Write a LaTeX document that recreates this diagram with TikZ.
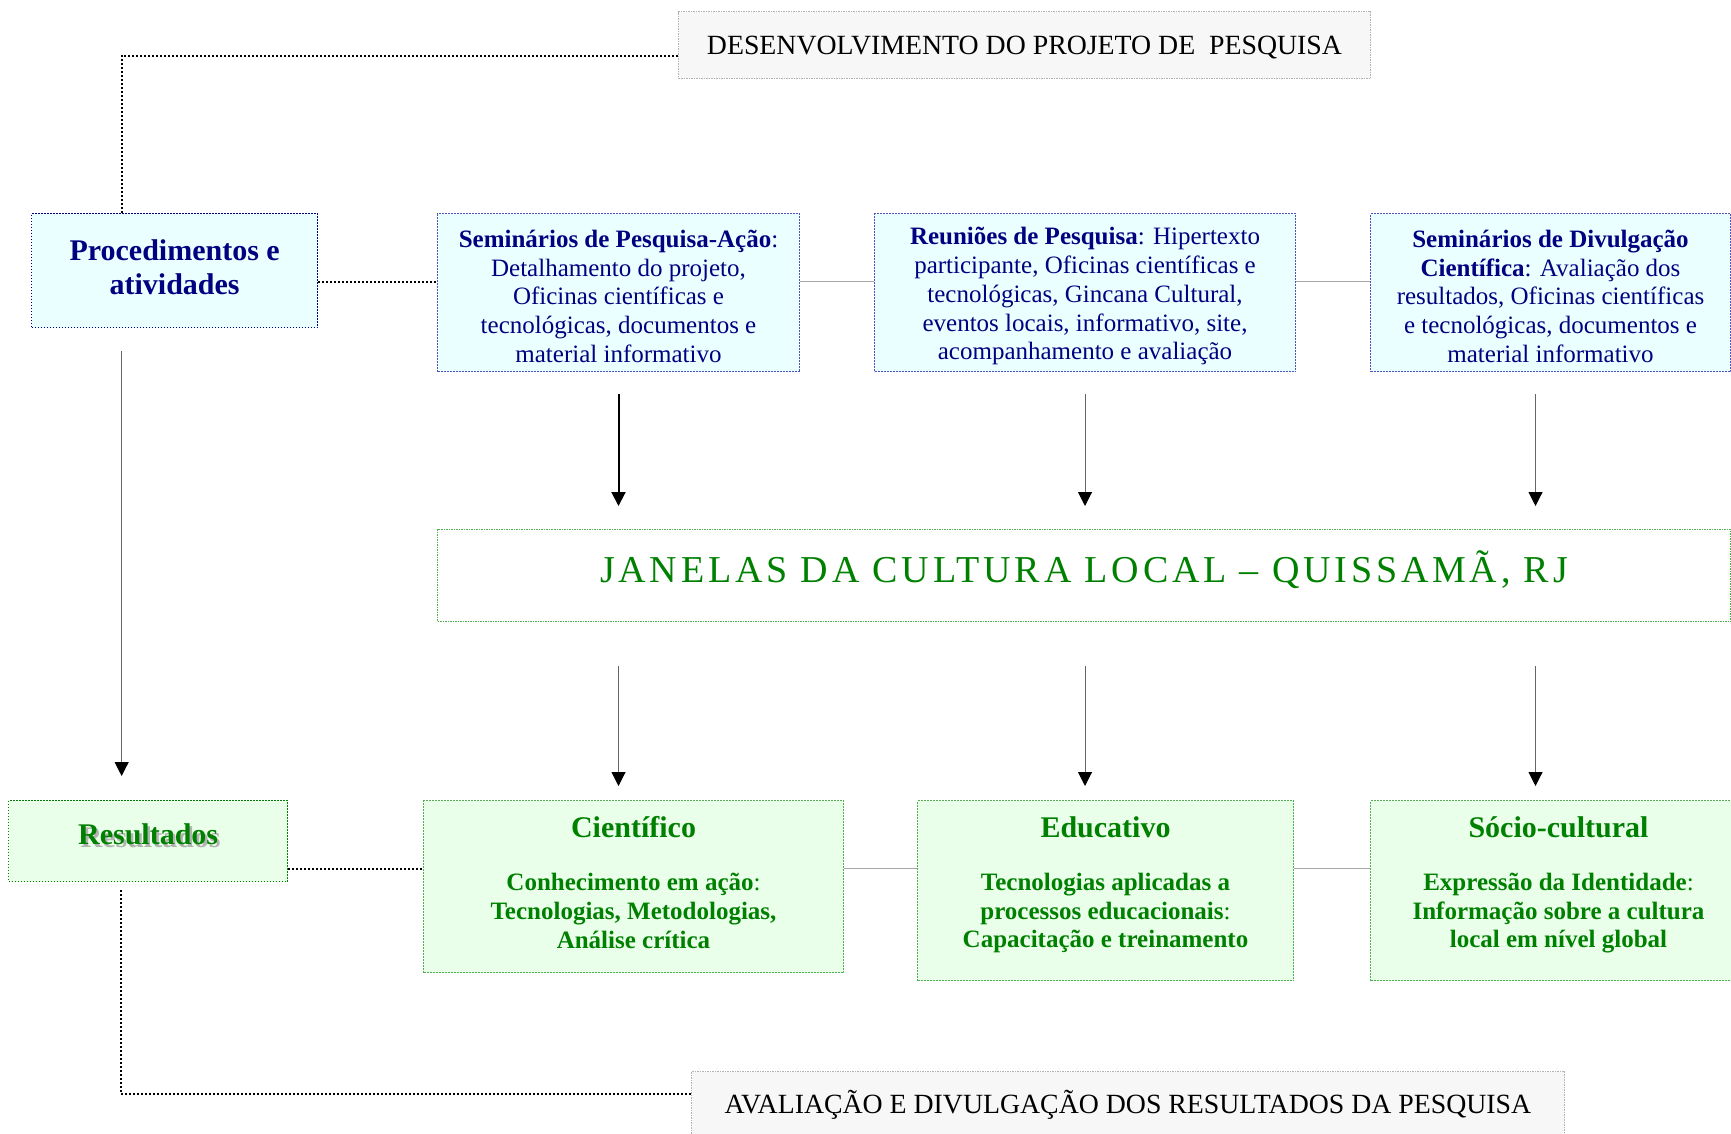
\documentclass[tikz,border=0pt]{standalone}
\usepackage{fontspec}
\setmainfont{Liberation Serif}
\usepackage{xcolor}
\usepackage{tikz}
\usetikzlibrary{positioning}
\usetikzlibrary{arrows.meta}

\definecolor{navytext}{RGB}{0,0,128}
\definecolor{greentext}{RGB}{0,128,0}
\definecolor{cyanfill}{RGB}{234,255,255}
\definecolor{mintfill}{RGB}{234,255,234}
\definecolor{greyfill}{RGB}{247,247,247}
\definecolor{blueline}{RGB}{80,80,190}
\definecolor{greenline}{RGB}{80,175,80}

\NewDocumentCommand{\shadowword}{m}{%
\makebox[0pt][l]{\kern2.5pt\raisebox{-2.5pt}{\textcolor{gray!60}{#1}}}#1%
}
\NewDocumentCommand{\headstrut}{}{\rule{0pt}{25pt}}
\NewDocumentCommand{\footstrut}{m}{\rule[-#1]{0pt}{#1}}

\begin{document}
\begin{tikzpicture}[x=1pt, y=-1pt,
headernode/.style={rectangle, draw=gray!60, line width=1pt, dash pattern=on 1.5pt off 1pt, fill=greyfill, anchor=north west, inner sep=0pt, align=center, font=\fontsize{27.8}{32}\selectfont},
procnode/.style={rectangle, draw=navytext, line width=1.3pt, dash pattern=on 1.5pt off 1.5pt, fill=cyanfill, anchor=north west, inner sep=0pt, align=center, text=navytext, font=\fontsize{30}{34.5}\selectfont\bfseries},
activitynode/.style={rectangle, draw=blueline, line width=1pt, dash pattern=on 2pt off 1pt, fill=cyanfill, anchor=north west, inner sep=0pt, align=center, text=navytext, font=\fontsize{25}{28.75}\selectfont},
centralnode/.style={rectangle, draw=greenline, line width=1pt, dash pattern=on 1.5pt off 1pt, fill=white, anchor=north west, inner sep=0pt, align=center, text=greentext, font=\fontsize{38}{44}\selectfont},
resultnode/.style={rectangle, draw=greentext, line width=1.3pt, dash pattern=on 1.5pt off 1.5pt, fill=mintfill, anchor=north west, inner sep=0pt, align=center, text=greentext, font=\fontsize{30}{34.5}\selectfont\bfseries},
outcomenode/.style={rectangle, draw=greenline, line width=1pt, dash pattern=on 2pt off 1pt, fill=mintfill, anchor=north west, inner sep=0pt, align=center, text=greentext, font=\fontsize{25}{28.75}\selectfont\bfseries},
dotlink/.style={line width=2pt, dash pattern=on 2pt off 2pt},
greylink/.style={draw=gray!70, line width=1pt},
boldarrow/.style={line width=2pt, -{Triangle[length=14pt, width=14pt]}},
thinarrow/.style={draw=gray!80!black, line width=1pt, -{Triangle[length=14pt, width=14pt, color=black]}},
]
\clip (0,0) rectangle (1731,1133);

%Nodes
\node[headernode, minimum width=692pt, minimum height=67pt, text height=22.5pt]	(devbox)	at (678,11)	{DESENVOLVIMENTO DO PROJETO DE\ \ PESQUISA};
\node[procnode, minimum width=286pt, minimum height=114pt]	(procbox)	at (31,213)	{Procedimentos e\\atividades\footstrut{7pt}};
\node[activitynode, minimum width=362pt, minimum height=158pt]	(semact)	at (437,213)	{\headstrut\textbf{Seminários de Pesquisa-Ação}:\\Detalhamento do projeto,\\Oficinas científicas e\\tecnológicas, documentos e\\material informativo};
\node[activitynode, minimum width=421pt, minimum height=158pt]	(meetings)	at (874,213)	{\headstrut\textbf{Reuniões de Pesquisa}: Hipertexto\\participante, Oficinas científicas e\\tecnológicas, Gincana Cultural,\\eventos locais, informativo, site,\\acompanhamento e avaliação};
\node[activitynode, minimum width=360pt, minimum height=158pt]	(semdiv)	at (1370,213)	{\headstrut\textbf{Seminários de Divulgação}\\\textbf{Científica}: Avaliação dos\\resultados, Oficinas científicas\\e tecnológicas, documentos e\\material informativo};
\node[centralnode, minimum width=1293pt, minimum height=92pt, text depth=17pt]	(janelas)	at (437,529)	{\addfontfeature{LetterSpace=10}JANELAS DA CULTURA LOCAL – QUISSAMÃ, RJ};
\node[resultnode, minimum width=279pt, minimum height=81pt, text depth=14pt]	(resbox)	at (8,800)	{\shadowword{Resultados}};
\node[outcomenode, minimum width=420pt, minimum height=172pt]	(cientifico)	at (423,800)	{{\fontsize{30}{34.5}\selectfont Científico}\\[24pt]Conhecimento em ação{\mdseries :}\\Tecnologias, Metodologias,\\Análise crítica\footstrut{8pt}};
\node[outcomenode, minimum width=376pt, minimum height=180pt]	(educativo)	at (917,800)	{{\fontsize{30}{34.5}\selectfont Educativo}\\[24pt]Tecnologias aplicadas a\\processos educacionais{\mdseries :}\\Capacitação e treinamento\footstrut{16.5pt}};
\node[outcomenode, minimum width=376pt, minimum height=180pt]	(sociocult)	at (1370,800)	{{\fontsize{30}{34.5}\selectfont Sócio-cultural}\\[24pt]Expressão da Identidade{\mdseries :}\\Informação sobre a cultura\\local em nível global\footstrut{16.5pt}};
\node[headernode, minimum width=873pt, minimum height=66pt]	(avalbox)	at (691,1071)	{AVALIAÇÃO E DIVULGAÇÃO DOS RESULTADOS DA PESQUISA};

%Lines
\draw[dotlink] ([yshift=-10.5pt]devbox.west) -| ([xshift=-53pt]procbox.north);
\draw[dotlink] ([yshift=-11pt]procbox.east) -- ([yshift=-11pt]procbox.east -| semact.west);
\draw[greylink] ([yshift=11pt]semact.east) -- ([yshift=11pt]meetings.west);
\draw[greylink] ([yshift=11pt]meetings.east) -- ([yshift=11pt]semdiv.west);
\draw[thinarrow] ([xshift=-53pt, yshift=-23pt]procbox.south) -- ([xshift=-53pt, yshift=24pt]procbox.south |- resbox.north);
\draw[boldarrow] ([yshift=-22pt]semact.south) -- ([yshift=23pt]semact.south |- janelas.north);
\draw[thinarrow] ([yshift=-22pt]meetings.south) -- ([yshift=23pt]meetings.south |- janelas.north);
\draw[thinarrow] ([xshift=-15pt, yshift=-22pt]semdiv.south) -- ([xshift=-15pt, yshift=23pt]semdiv.south |- janelas.north);
\draw[thinarrow] ([yshift=-44pt]semact.south |- janelas.south) -- ([yshift=14pt]semact.south |- cientifico.north);
\draw[thinarrow] ([yshift=-44pt]meetings.south |- janelas.south) -- ([yshift=14pt]meetings.south |- educativo.north);
\draw[thinarrow] ([xshift=-15pt, yshift=-44pt]semdiv.south |- janelas.south) -- ([xshift=-15pt, yshift=14pt]semdiv.south |- sociocult.north);
\draw[dotlink] ([yshift=-27.5pt]resbox.east) -- ([yshift=-27.5pt]resbox.east -| cientifico.west);
\draw[greylink] ([yshift=18pt]cientifico.east) -- ([yshift=18pt]cientifico.east -| educativo.west);
\draw[greylink] ([yshift=22pt]educativo.east) -- ([yshift=22pt]sociocult.west);
\draw[dotlink] ([xshift=-27.5pt, yshift=-8pt]resbox.south) |- ([yshift=11pt]avalbox.west);
\end{tikzpicture}
\end{document}
